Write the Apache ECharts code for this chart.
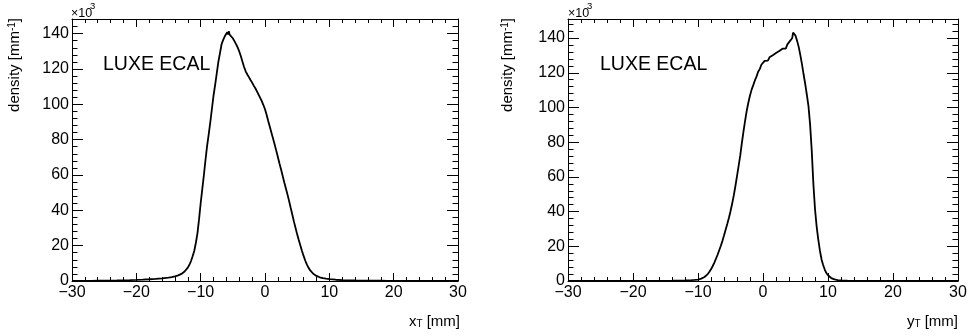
<!DOCTYPE html>
<html>
<head>
<meta charset="utf-8">
<script src="https://cdn.jsdelivr.net/npm/echarts@6/dist/echarts.min.js"></script>
<style>
  html, body { margin: 0; padding: 0; background: #fff; }
  #chart { width: 968px; height: 336px; }
</style>
</head>
<body>
<div id="chart"></div>
<script>
// Transverse shower-position densities (units of 10^3 per mm)

// x_T profile
const xT = [
  -30, -29, -28, -27, -26, -25, -24, -23, -22, -21,
  -20, -19, -18, -17, -16, -15, -14.5, -14, -13.5, -13,
  -12.5, -12, -11.75, -11.5, -11.25, -11, -10.75, -10.5, -10.25, -10,
  -9.75, -9.5, -9.25, -9, -8.75, -8.5, -8.25, -8, -7.75, -7.5,
  -7.25, -7, -6.75, -6.5, -6.25, -6, -5.875, -5.75, -5.625, -5.5,
  -5.25, -5, -4.75, -4.5, -4.25, -4, -3.75, -3.5, -3.25, -3,
  -2.75, -2.5, -2.25, -2, -1.75, -1.5, -1.25, -1, -0.75, -0.5,
  -0.25, 0, 0.25, 0.5, 0.75, 1, 1.25, 1.5, 1.75, 2,
  2.25, 2.5, 2.75, 3, 3.25, 3.5, 3.75, 4, 4.25, 4.5,
  4.75, 5, 5.25, 5.5, 5.75, 6, 6.25, 6.5, 6.75, 7,
  7.5, 8, 8.5, 9, 9.5, 10, 11, 12, 13, 14,
  15, 16, 17, 18, 19, 20, 22, 24, 26, 28,
  30
];
const densityX = [
  0.05, 0.06, 0.08, 0.1, 0.13, 0.17, 0.22, 0.3, 0.4, 0.52,
  0.66, 0.82, 1.0, 1.2, 1.5, 1.9, 2.2, 2.6, 3.2, 4.0,
  5.4, 7.6, 9.2, 11.3, 14, 17, 21.5, 27, 35, 44,
  52, 60, 68.5, 76.5, 83, 90, 97.5, 105, 111, 117.5,
  124, 129, 134, 136.5, 138.5, 139.5, 140.8, 139.6, 141.4, 139.4,
  138.6, 137.4, 135.8, 134.1, 132.2, 129.9, 127.2, 124.1, 121.1, 118.7,
  116.9, 115.4, 113.8, 112.3, 110.6, 109.1, 107.3, 105.5, 103.7, 101.8,
  99.6, 97.2, 94.1, 90.6, 87.3, 83.9, 80.6, 77.3, 73.8, 70.2,
  66.5, 63.1, 59.4, 55.8, 52.4, 48.9, 45.2, 41.3, 37.5, 33.6,
  30, 26.4, 23.2, 20.1, 17, 14.2, 11.6, 9.4, 7.6, 6.1,
  4.1, 2.9, 2.1, 1.6, 1.3, 1.05, 0.72, 0.52, 0.4, 0.32,
  0.26, 0.21, 0.17, 0.14, 0.12, 0.1, 0.08, 0.06, 0.05, 0.04,
  0.03
];

// y_T profile
const yT = [
  -30, -28, -26, -24, -22, -20, -18, -16, -15, -14,
  -13, -12, -11.5, -11, -10.5, -10, -9.75, -9.5, -9.25, -9,
  -8.75, -8.5, -8.25, -8, -7.75, -7.5, -7.25, -7, -6.75, -6.5,
  -6.25, -6, -5.75, -5.5, -5.25, -5, -4.75, -4.5, -4.25, -4,
  -3.75, -3.5, -3.25, -3, -2.75, -2.5, -2.25, -2, -1.75, -1.5,
  -1.25, -1, -0.75, -0.5, -0.25, 0, 0.25, 0.5, 0.75, 1,
  1.25, 1.5, 1.75, 2, 2.25, 2.5, 2.75, 3, 3.25, 3.5,
  3.75, 4, 4.25, 4.5, 4.625, 4.75, 4.875, 5, 5.25, 5.5,
  5.75, 6, 6.25, 6.5, 6.75, 7, 7.25, 7.5, 7.75, 8,
  8.25, 8.5, 8.75, 9, 9.25, 9.5, 9.75, 10, 10.5, 11,
  11.5, 12, 13, 14, 16, 18, 20, 25, 30
];
const densityY = [
  0.01, 0.01, 0.02, 0.03, 0.04, 0.05, 0.06, 0.08, 0.09, 0.13,
  0.19, 0.28, 0.35, 0.45, 0.6, 0.85, 1.1, 1.4, 1.8, 2.3,
  3.0, 4.0, 5.3, 6.8, 8.5, 10.5, 12.7, 15, 17.6, 20.2,
  23, 26.2, 29.6, 32.8, 36.3, 40.2, 44.5, 49.2, 54.6, 60.5,
  66.4, 72.4, 79.6, 86.2, 92.4, 98.2, 102.9, 106.9, 110.3, 112.9,
  115.6, 117.8, 120.6, 122.1, 124.6, 125.5, 126.9, 127.4, 127.0, 128.9,
  128.5, 130.1, 129.5, 131.4, 130.7, 132.6, 131.8, 133.9, 134.6, 133.9,
  136.4, 136.8, 138.8, 140.1, 143.2, 144.2, 142.6, 141.4, 138.4, 134.8,
  130, 124.8, 119, 113.4, 107.2, 100.6, 90, 75, 56, 41.5,
  31.5, 24, 17.6, 12.6, 9.2, 6.6, 4.6, 3.3, 1.7, 0.9,
  0.52, 0.32, 0.16, 0.1, 0.06, 0.04, 0.03, 0.02, 0.01
];

// Axis ticks and labels
const xMajorTicks = [-30, -20, -10, 0, 10, 20, 30];
const yMajorTicks = [0, 20, 40, 60, 80, 100, 120, 140];
const yMinorTicks = [4, 8, 12, 16, 24, 28, 32, 36, 44, 48, 52, 56, 64, 68, 72, 76,
                     84, 88, 92, 96, 104, 108, 112, 116, 124, 128, 132, 136, 144, 148];
const yMaxLeft = 148.3;
const yMaxRight = 151;

const FONT = '"Liberation Sans", Arial, Helvetica, sans-serif';
const INK = '#000';

function minusFmt(v) {
  return v < 0 ? '\u2212' + Math.abs(v) : String(v);
}

function frameX(g) {
  const base = {
    gridIndex: g, type: 'value', min: -30, max: 30, interval: 10,
    splitLine: { show: false },
    axisLine: { show: true, onZero: false, lineStyle: { color: INK, width: 1 } },
    axisTick: { show: true, inside: true, length: 8, customValues: xMajorTicks, lineStyle: { color: INK, width: 1 } },
    minorTick: { show: true, splitNumber: 5, length: 4, lineStyle: { color: INK, width: 1 } },
    minorSplitLine: { show: false }
  };
  return [
    Object.assign({}, base, {
      position: 'bottom',
      axisLabel: { show: true, margin: 4, color: INK, fontSize: 16, fontFamily: FONT, formatter: minusFmt }
    }),
    Object.assign({}, base, { position: 'top', axisLabel: { show: false } })
  ];
}

function frameY(g, ymax) {
  const base = {
    gridIndex: g, type: 'value', min: 0, max: ymax,
    splitLine: { show: false },
    axisLine: { show: true, onZero: false, lineStyle: { color: INK, width: 1 } },
    axisLabel: { show: false }
  };
  const major = { show: true, inside: true, length: 11, customValues: yMajorTicks, lineStyle: { color: INK, width: 1 } };
  const minor = { show: true, inside: true, length: 5.5, customValues: yMinorTicks, lineStyle: { color: INK, width: 1 } };
  const noLine = { show: false, onZero: false };
  return [
    Object.assign({}, base, {
      position: 'left', axisTick: major,
      axisLabel: { show: true, customValues: yMajorTicks, margin: 3, color: INK, fontSize: 16, fontFamily: FONT }
    }),
    Object.assign({}, base, { position: 'left', axisTick: minor, axisLine: noLine }),
    Object.assign({}, base, { position: 'right', axisTick: major }),
    Object.assign({}, base, { position: 'right', axisTick: minor, axisLine: noLine })
  ];
}

function profile(xs, ys) {
  return xs.map((x, i) => [x, ys[i]]);
}

function curve(data, xi, yi) {
  return {
    type: 'line', xAxisIndex: xi, yAxisIndex: yi, data: data,
    symbol: 'none', showSymbol: false, silent: true, clip: true,
    lineStyle: { color: INK, width: 1.8 }
  };
}

function tf(size, extra) {
  return Object.assign({ fontSize: size, fontFamily: FONT, fill: INK }, extra || {});
}

const chart = echarts.init(document.getElementById('chart'), null, { renderer: 'canvas' });
chart.setOption({
  animation: false,
  backgroundColor: '#fff',
  grid: [
    { left: 72, top: 19, width: 386, height: 262, outerBoundsMode: 'none', containLabel: false },
    { left: 568, top: 19, width: 390, height: 262, outerBoundsMode: 'none', containLabel: false }
  ],
  xAxis: [].concat(frameX(0), frameX(1)),
  yAxis: [].concat(frameY(0, yMaxLeft), frameY(1, yMaxRight)),
  series: [
    curve(profile(xT, densityX), 0, 0),
    curve(profile(yT, densityY), 2, 4)
  ],
  graphic: [
    // left panel texts
    { type: 'text', x: 103, y: 65, silent: true,
      style: tf(19.5, { text: 'LUXE ECAL', verticalAlign: 'middle' }) },
    { type: 'text', x: 71, y: 13.5, silent: true,
      style: tf(12.5, { text: '\u00d710', verticalAlign: 'middle' }) },
    { type: 'text', x: 90, y: 6, silent: true,
      style: tf(9.5, { text: '3', verticalAlign: 'middle' }) },
    { type: 'text', x: 15, y: 18, rotation: Math.PI / 2, silent: true,
      style: tf(15, { text: 'density [mm{s|-1}]', align: 'right', verticalAlign: 'middle',
        rich: { s: tf(10, { verticalAlign: 'top' }) } }) },
    { type: 'text', x: 460, y: 322, silent: true,
      style: tf(15, { text: 'x{t|T} [mm]', align: 'right', verticalAlign: 'middle',
        rich: { t: tf(10, { verticalAlign: 'bottom' }) } }) },
    // right panel texts
    { type: 'text', x: 600, y: 65, silent: true,
      style: tf(19.5, { text: 'LUXE ECAL', verticalAlign: 'middle' }) },
    { type: 'text', x: 568, y: 13.5, silent: true,
      style: tf(12.5, { text: '\u00d710', verticalAlign: 'middle' }) },
    { type: 'text', x: 587, y: 6, silent: true,
      style: tf(9.5, { text: '3', verticalAlign: 'middle' }) },
    { type: 'text', x: 508, y: 18, rotation: Math.PI / 2, silent: true,
      style: tf(15, { text: 'density [mm{s|-1}]', align: 'right', verticalAlign: 'middle',
        rich: { s: tf(10, { verticalAlign: 'top' }) } }) },
    { type: 'text', x: 958, y: 322, silent: true,
      style: tf(15, { text: 'y{t|T} [mm]', align: 'right', verticalAlign: 'middle',
        rich: { t: tf(10, { verticalAlign: 'bottom' }) } }) }
  ]
});
</script>
</body>
</html>
